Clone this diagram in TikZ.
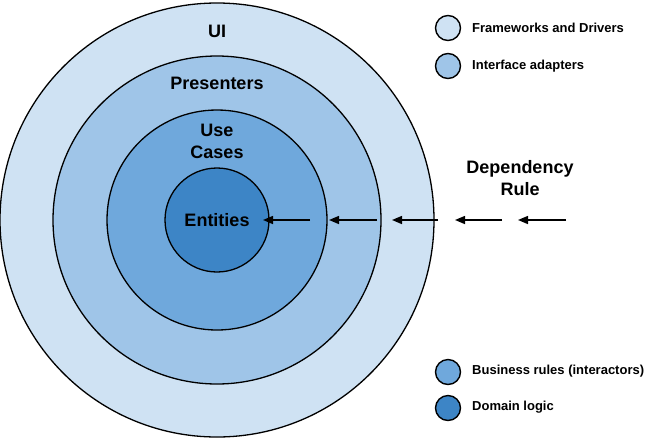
\documentclass[tikz,border=0pt]{standalone}
\usepackage{fontspec}
\setmainfont{Liberation Sans}
\usetikzlibrary{arrows.meta}
\definecolor{layerA}{HTML}{CFE2F3}
\definecolor{layerB}{HTML}{9FC5E8}
\definecolor{layerC}{HTML}{6FA8DC}
\definecolor{layerD}{HTML}{3D85C6}
\begin{document}
\begin{tikzpicture}[x=1pt, y=-1pt]
		\tikzset{
		    ring/.style= {circle, draw=black, line width=1.3pt, inner sep=0pt},
		    big/.style= {font=\fontsize{18}{22}\selectfont\bfseries, align=center, inner sep=0pt},
		    key/.style= {circle, draw=black, line width=1.4pt, inner sep=0pt, minimum size=25pt},
		    keytext/.style= {anchor=west, font=\fontsize{13}{15}\selectfont\bfseries, inner sep=0pt},
		    dep/.style= {-{Triangle[length=10pt, width=8pt]}, line width=1.5pt},
		}
		\useasboundingbox (0,0) rectangle (647,440);
		
		% layers
		\node[ring, fill=layerA, minimum size=434pt] (ui) at (217,220) {};
		\node[ring, fill=layerB, minimum size=328pt] (presenters) at (217,220) {};
		\node[ring, fill=layerC, minimum size=220pt] (usecases) at (217,220) {};
		\node[ring, fill=layerD, minimum size=104pt, big] (entities) at (217,220) {Entities};
		
		\node[big] (uilabel) at (217,31) {UI};
		\node[big] (prlabel) at (217,83) {Presenters};
		\node[big] (uclabel) at (217,141) {Use\\Cases};
		\node[big] (rule) at (520,178) {Dependency\\Rule};
		
		% arrows
		\coordinate (t1) at (310,220); \coordinate (h1) at (263,220);
		\coordinate (t2) at (377,220); \coordinate (h2) at (329,220);
		\coordinate (t3) at (438,220); \coordinate (h3) at (392,220);
		\coordinate (t4) at (502,220); \coordinate (h4) at (455,220);
		\coordinate (t5) at (566,220); \coordinate (h5) at (518,220);
		\draw[dep] (t1) -- (h1);
		\draw[dep] (t2) -- (h2);
		\draw[dep] (t3) -- (h3);
		\draw[dep] (t4) -- (h4);
		\draw[dep] (t5) -- (h5);
		
		% legend
		\node[key, fill=layerA] (k1) at (448,28) {};
		\node[key, fill=layerB] (k2) at (448,66) {};
		\node[key, fill=layerC] (k3) at (448,372) {};
		\node[key, fill=layerD] (k4) at (448,408) {};
		\node[keytext] (k1t) at (472,28) {Frameworks and Drivers};
		\node[keytext] (k2t) at (472,66) {Interface adapters};
		\node[keytext] (k3t) at (472,371) {Business rules (interactors)};
		\node[keytext] (k4t) at (472,407) {Domain logic};
	\end{tikzpicture}
\end{document}
